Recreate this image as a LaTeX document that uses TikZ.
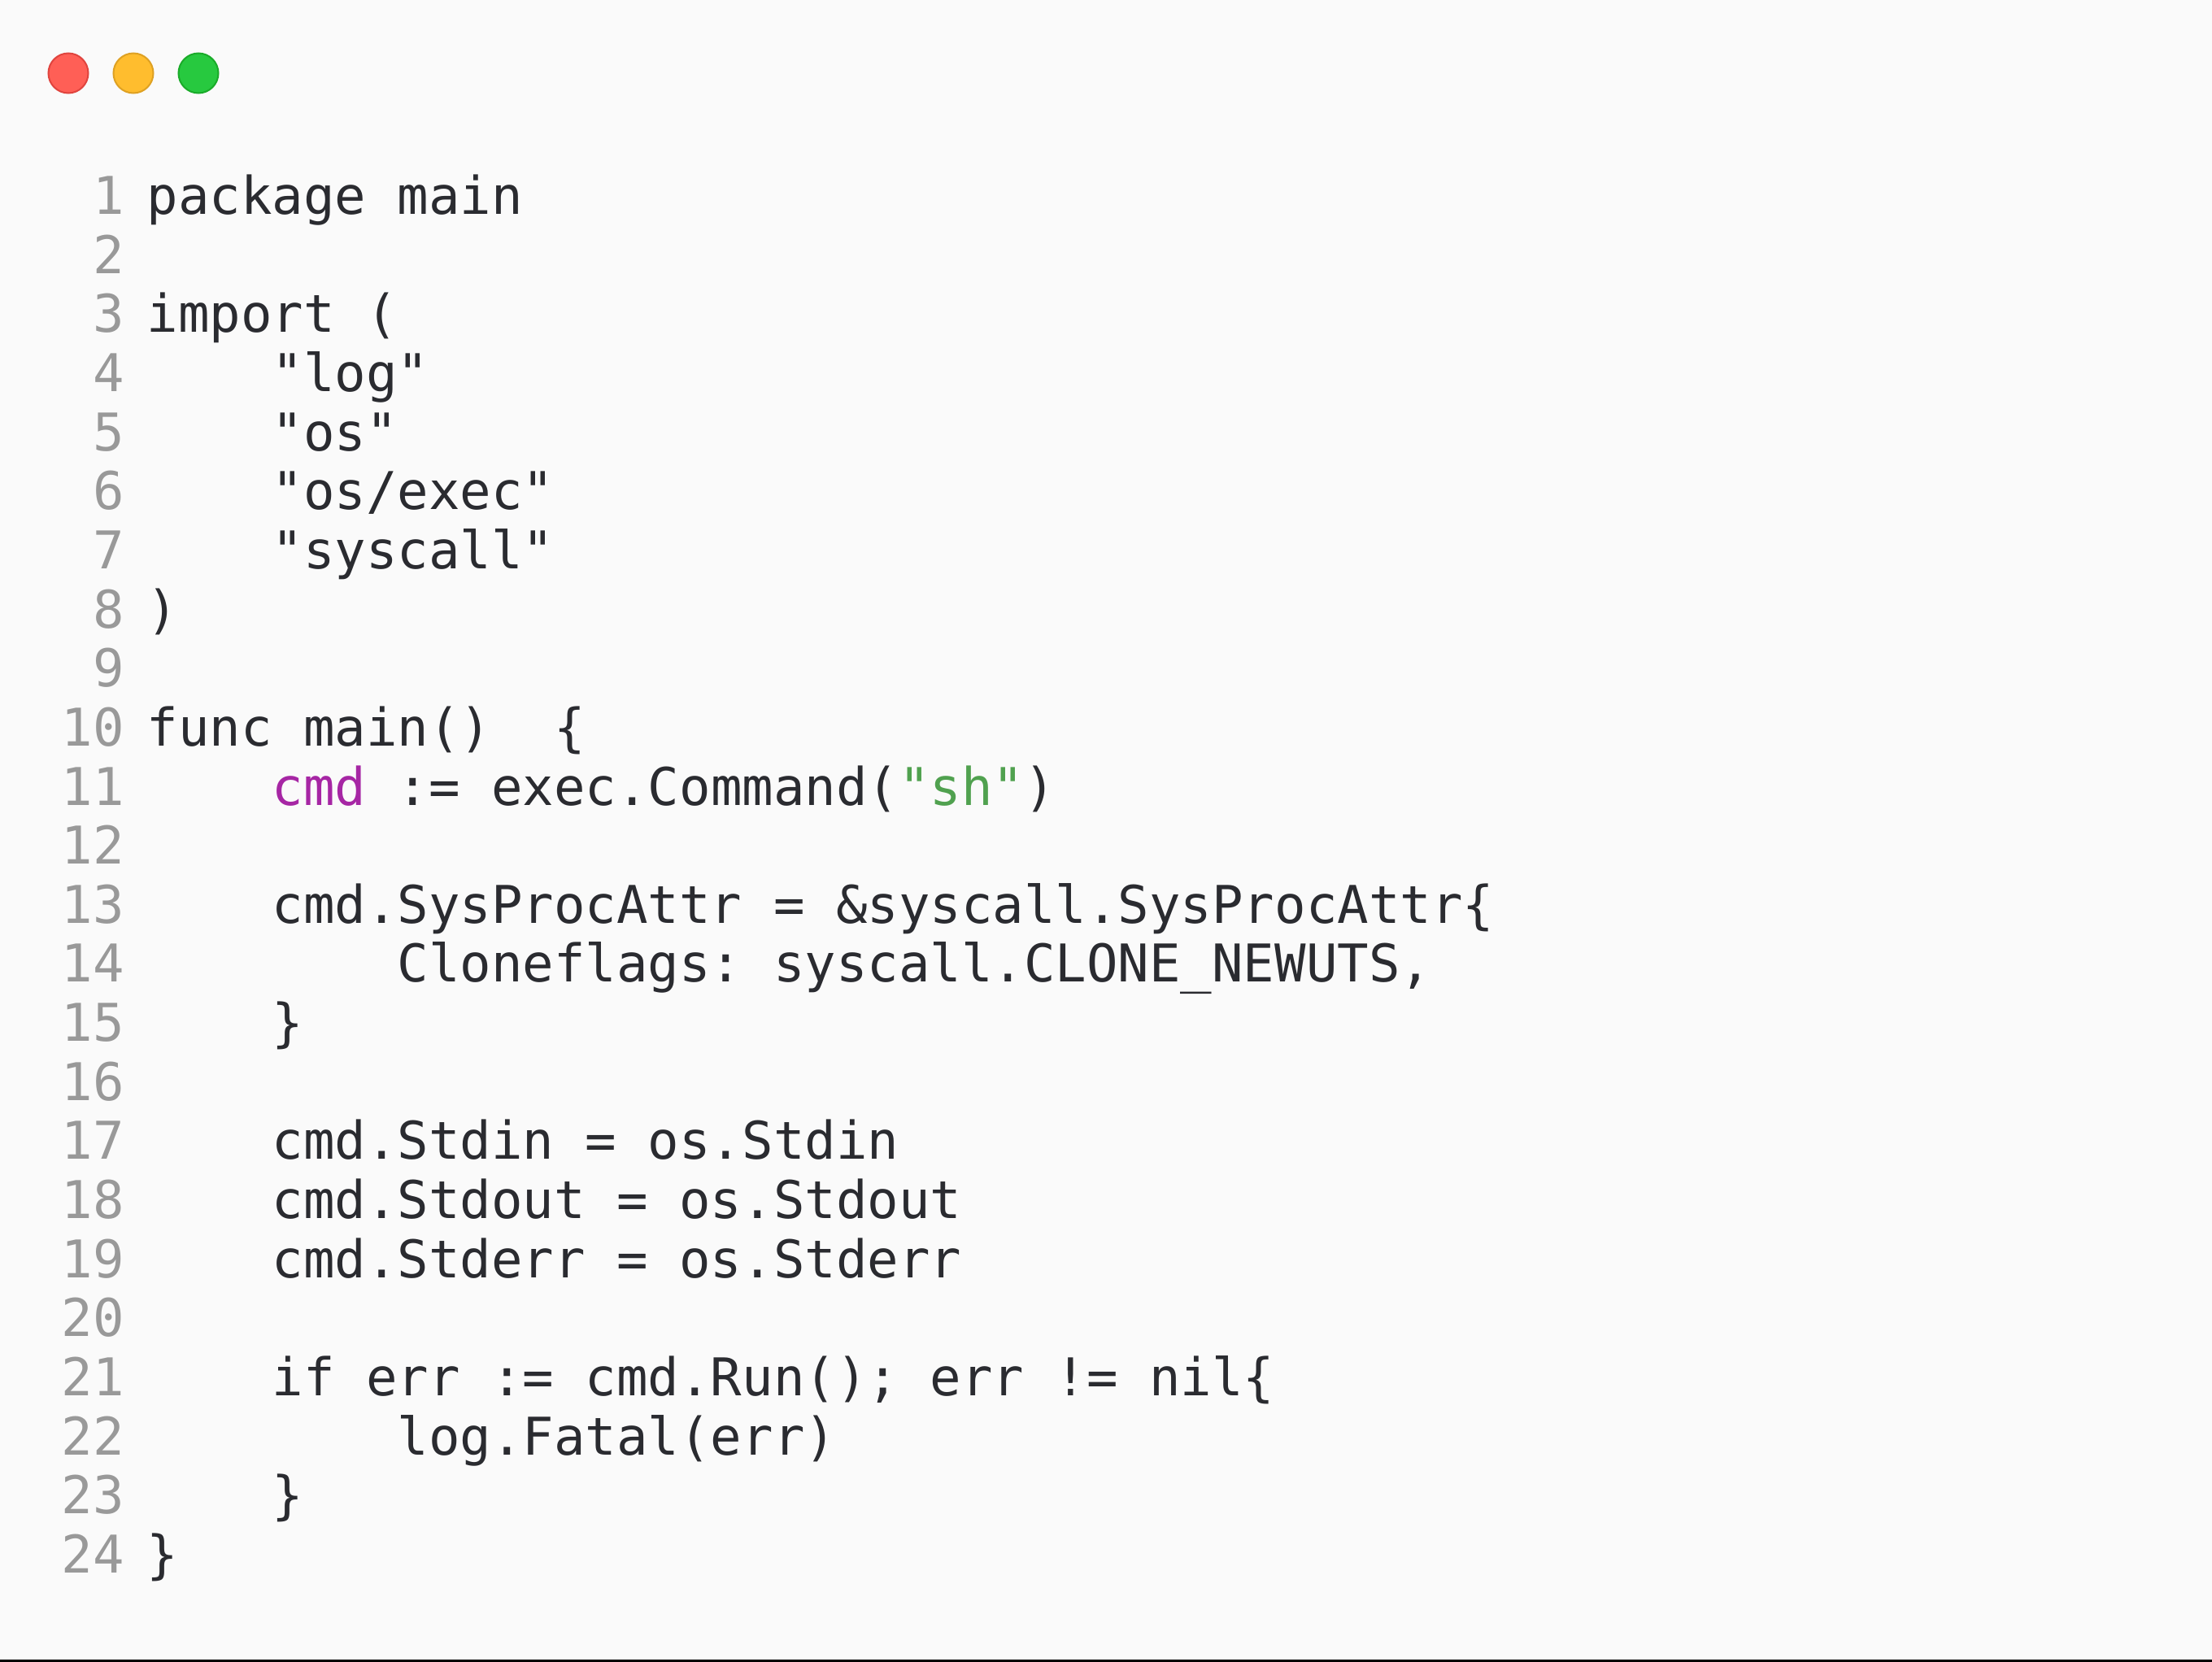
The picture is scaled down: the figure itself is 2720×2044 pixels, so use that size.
\documentclass[tikz,border=0pt]{standalone}
\usepackage{tikz}
\usepackage{xcolor}
\usepackage{fontspec}
\setmonofont{DejaVu Sans Mono}
\usetikzlibrary{positioning}

\definecolor{winbg}{HTML}{FAFAFA}
\definecolor{codefg}{HTML}{2A2B30}
\definecolor{lnfg}{HTML}{999999}
\definecolor{kwpurple}{HTML}{A626A4}
\definecolor{strgreen}{HTML}{50A14F}

\begin{document}
\begin{tikzpicture}[x=0.25pt, y=-0.25pt,
    every node/.style={inner sep=0pt, outer sep=0pt, font=\ttfamily\fontsize{16pt}{19pt}\selectfont\frenchspacing},
    lineno/.style={anchor=base east, text=lnfg},
    codeline/.style={anchor=base west, text=codefg},
    light/.style={circle, minimum size=12.25pt, line width=0.5pt},
    node distance=7.75pt]

% window
\fill[winbg] (0,0) rectangle (2720,2044);
\fill[black] (0,2041) rectangle (2720,2044);

% traffic lights
\node[light, fill={rgb,255:red,255;green,95;blue,86}, draw={rgb,255:red,224;green,68;blue,62}] (red) at (84,90) {};
\node[light, fill={rgb,255:red,255;green,189;blue,46}, draw={rgb,255:red,222;green,161;blue,35}, right=of red] (amber) {};
\node[light, fill={rgb,255:red,39;green,201;blue,63}, draw={rgb,255:red,26;green,171;blue,41}, right=of amber] (green) {};

% line numbers
\node[lineno] (n1) at (153,263.5) {1};
\node[lineno] (n2) at (153,336.15) {2};
\node[lineno] (n3) at (153,408.8) {3};
\node[lineno] (n4) at (153,481.45) {4};
\node[lineno] (n5) at (153,554.1) {5};
\node[lineno] (n6) at (153,626.75) {6};
\node[lineno] (n7) at (153,699.4) {7};
\node[lineno] (n8) at (153,772.05) {8};
\node[lineno] (n9) at (153,844.7) {9};
\node[lineno] (n10) at (153,917.35) {10};
\node[lineno] (n11) at (153,990) {11};
\node[lineno] (n12) at (153,1062.65) {12};
\node[lineno] (n13) at (153,1135.3) {13};
\node[lineno] (n14) at (153,1207.95) {14};
\node[lineno] (n15) at (153,1280.6) {15};
\node[lineno] (n16) at (153,1353.25) {16};
\node[lineno] (n17) at (153,1425.9) {17};
\node[lineno] (n18) at (153,1498.55) {18};
\node[lineno] (n19) at (153,1571.2) {19};
\node[lineno] (n20) at (153,1643.85) {20};
\node[lineno] (n21) at (153,1716.5) {21};
\node[lineno] (n22) at (153,1789.15) {22};
\node[lineno] (n23) at (153,1861.8) {23};
\node[lineno] (n24) at (153,1934.45) {24};

% code
\node[codeline] (c1) at (180.5,263.5) {package main};
\node[codeline] (c3) at (180.5,408.8) {import (};
\node[codeline] (c4) at (334.6,481.45) {"log"};
\node[codeline] (c5) at (334.6,554.1) {"os"};
\node[codeline] (c6) at (334.6,626.75) {"os/exec"};
\node[codeline] (c7) at (334.6,699.4) {"syscall"};
\node[codeline] (c8) at (180.5,772.05) {)};
\node[codeline] (c10) at (180.5,917.35) {func main()~~\{};
\node[codeline] (c11) at (334.6,990) {\textcolor{kwpurple}{cmd} := exec.Command(\textcolor{strgreen}{"sh"})};
\node[codeline] (c13) at (334.6,1135.3) {cmd.SysProcAttr = \&syscall.SysProcAttr\{};
\node[codeline] (c14) at (488.7,1207.95) {Cloneflags: syscall.CLONE\_NEWUTS,};
\node[codeline] (c15) at (334.6,1280.6) {\}};
\node[codeline] (c17) at (334.6,1425.9) {cmd.Stdin = os.Stdin};
\node[codeline] (c18) at (334.6,1498.55) {cmd.Stdout = os.Stdout};
\node[codeline] (c19) at (334.6,1571.2) {cmd.Stderr = os.Stderr};
\node[codeline] (c21) at (334.6,1716.5) {if err := cmd.Run(); err != nil\{};
\node[codeline] (c22) at (488.7,1789.15) {log.Fatal(err)};
\node[codeline] (c23) at (334.6,1861.8) {\}};
\node[codeline] (c24) at (180.5,1934.45) {\}};

\end{tikzpicture}
\end{document}
